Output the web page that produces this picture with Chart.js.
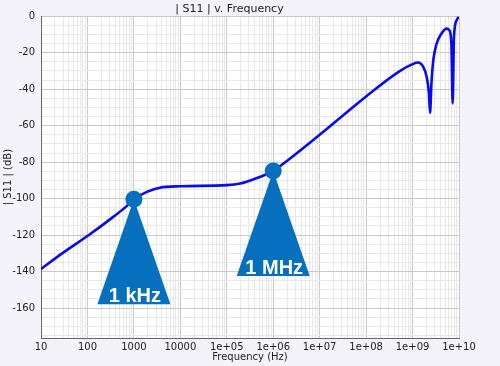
<!DOCTYPE html>
<html>
<head>
<meta charset="utf-8">
<script src="https://cdn.jsdelivr.net/npm/chart.js@4/dist/chart.umd.min.js"></script>
<style>
  html, body { margin: 0; padding: 0; background: #f3f3f9; }
  #wrap { width: 500px; height: 366px; }
</style>
</head>
<body>
<div id="wrap"><canvas id="c" width="500" height="366"></canvas></div>
<script>
// |S11| vs frequency
const freqHz = [10, 30, 100, 360, 700, 1000, 1900, 3600, 1e4, 1e5, 1.95e5, 3.7e5, 1e6, 2e6, 1e7, 1e8, 5e8, 1e9,
  1.3e9, 1.7e9, 2.0e9, 2.25e9, 2.38e9, 2.55e9, 2.8e9, 3.3e9, 4.2e9, 5.4e9, 6.2e9, 6.85e9, 7.3e9, 7.8e9, 8.9e9, 1e10];
const s11dB = [-138.6, -129.6, -120.5, -110, -104.1, -100.4, -96.3, -94, -93.2, -92.6, -91.7, -89.5, -84.8, -79.2, -65, -44, -30.5, -26.3,
  -25.4, -27.8, -33, -42, -53, -37, -24, -15, -9.5, -6.8, -7.7, -15, -47.8, -11.3, -2.2, -0.3];

const markerFreq = [1000, 1e6];
const markerDb = [-100.4, -84.8];
const markerLabels = ['1 kHz', '1 MHz'];

const xTickLabels = ['10', '100', '1000', '10000', '1e+05', '1e+06', '1e+07', '1e+08', '1e+09', '1e+10'];
const yMin = -176.4, yMax = 0;

const isDecade = v => Math.abs(Math.log10(v) - Math.round(Math.log10(v))) < 1e-9;

const bgPlugin = {
  id: 'bg',
  beforeDraw(chart) {
    const { ctx, chartArea: a } = chart;
    ctx.save();
    ctx.fillStyle = '#f3f3f9';
    ctx.fillRect(0, 0, chart.width, chart.height);
    ctx.fillStyle = '#ffffff';
    ctx.fillRect(a.left, a.top, a.right - a.left, a.bottom - a.top);
    ctx.restore();
  }
};

const markerPlugin = {
  id: 'markers',
  afterDatasetsDraw(chart) {
    const { ctx, scales } = chart;
    ctx.save();
    markerFreq.forEach((f, i) => {
      const px = scales.x.getPixelForValue(f);
      const py = scales.y.getPixelForValue(markerDb[i]);
      ctx.fillStyle = '#0670bf';
      ctx.beginPath();
      ctx.moveTo(px, py);
      ctx.lineTo(px + 36.5, py + 105);
      ctx.lineTo(px - 36.5, py + 105);
      ctx.closePath();
      ctx.fill();
      ctx.beginPath();
      ctx.arc(px, py, 8.5, 0, Math.PI * 2);
      ctx.fill();
      ctx.fillStyle = '#ffffff';
      ctx.font = 'bold 20px "Liberation Sans", Arial, sans-serif';
      ctx.textAlign = 'center';
      ctx.textBaseline = 'alphabetic';
      ctx.fillText(markerLabels[i], px + 1, py + 103);
    });
    ctx.restore();
  }
};

Chart.defaults.font.family = "'DejaVu Sans', sans-serif";
Chart.defaults.font.size = 10;
Chart.defaults.color = '#222';

new Chart(document.getElementById('c'), {
  type: 'line',
  data: {
    datasets: [{
      data: freqHz.map((f, i) => ({ x: f, y: s11dB[i] })),
      borderColor: '#0a0af0',
      borderWidth: 2.6,
      pointRadius: 0,
      fill: false,
      cubicInterpolationMode: 'monotone'
    }]
  },
  options: {
    responsive: false,
    animation: false,
    layout: { padding: { left: 0, right: 41, top: 0, bottom: 0 } },
    plugins: {
      legend: { display: false },
      tooltip: { enabled: false },
      title: {
        display: true,
        text: '| S11 | v. Frequency',
        color: '#222',
        font: { size: 11, weight: 'normal' },
        padding: { top: 3, bottom: 0 }
      }
    },
    scales: {
      x: {
        type: 'logarithmic',
        min: 10,
        max: 1e10,
        afterBuildTicks(scale) {
          const t = [];
          for (let e = 1; e <= 10; e++) {
            for (let m = 1; m <= 9; m++) {
              const v = m * Math.pow(10, e);
              if (v > 1e10) break;
              t.push({ value: v });
            }
          }
          scale.ticks = t;
        },
        afterFit(scale) { scale.height = 28; },
        ticks: {
          autoSkip: false,
          maxRotation: 0,
          padding: 3,
          callback(v) {
            if (!isDecade(v)) return '';
            return xTickLabels[Math.round(Math.log10(v)) - 1];
          }
        },
        grid: {
          drawTicks: false,
          color: c => (c.tick && isDecade(c.tick.value)) ? '#c8c8c8' : '#e8e8e8',
          lineWidth: 1
        },
        border: { color: '#666' },
        title: { display: true, text: 'Frequency (Hz)', color: '#222', font: { size: 10 }, padding: { top: 0, bottom: 3 } }
      },
      y: {
        min: yMin,
        max: yMax,
        afterBuildTicks(scale) {
          const t = [];
          for (let v = -175; v <= 0; v += 5) t.push({ value: v });
          scale.ticks = t;
        },
        afterFit(scale) { scale.width = 41; },
        ticks: {
          autoSkip: false,
          padding: 6,
          callback: v => (v % 20 === 0 ? String(v) : '')
        },
        grid: {
          drawTicks: false,
          color: c => (c.tick && c.tick.value % 20 === 0) ? '#c8c8c8' : '#e8e8e8',
          lineWidth: 1
        },
        border: { color: '#666' },
        title: { display: true, text: '| S11 | (dB)', color: '#222', font: { size: 10 }, padding: { top: 2, bottom: 0 } }
      }
    }
  },
  plugins: [bgPlugin, markerPlugin]
});
</script>
</body>
</html>
